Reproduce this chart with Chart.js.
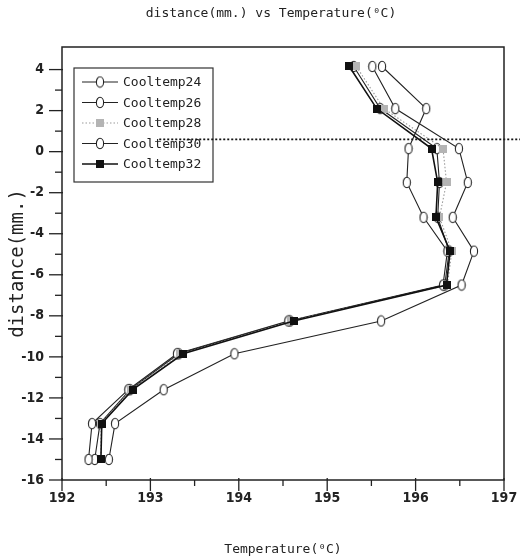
<!DOCTYPE html>
<html>
<head>
<meta charset="utf-8">
<script src="https://cdn.jsdelivr.net/npm/chart.js@4"></script>
<style>
  html, body { margin: 0; padding: 0; background: #fff; }
  #wrap { width: 520px; height: 559px; position: relative; }
</style>
</head>
<body>
<div id="wrap"><canvas id="chart"></canvas></div>
<script>
// depth positions (mm), shared by every series
const distance = [4.15, 2.1, 0.15, -1.5, -3.2, -4.85, -6.5, -8.25, -9.85, -11.6, -13.25, -15.0];

// temperatures (C)
const cool24 = [195.62, 196.12, 195.92, 195.90, 196.09, 196.36, 196.31, 194.56, 193.30, 192.75, 192.34, 192.30];
const cool26 = [195.30, 195.60, 196.24, 196.27, 196.25, 196.38, 196.33, 194.58, 193.32, 192.77, 192.43, 192.37];
const cool28 = [195.33, 195.64, 196.31, 196.35, 196.27, 196.41, 196.36, 194.59, 193.34, 192.78, 192.44, 192.44];
const cool30 = [195.51, 195.77, 196.49, 196.59, 196.42, 196.66, 196.52, 195.61, 193.95, 193.15, 192.60, 192.53];
const cool32 = [195.25, 195.56, 196.18, 196.25, 196.23, 196.39, 196.35, 194.62, 193.37, 192.80, 192.45, 192.44];

const labels = ['Cooltemp24', 'Cooltemp26', 'Cooltemp28', 'Cooltemp30', 'Cooltemp32'];

// axis ticks
const xTicks = [192, 193, 194, 195, 196, 197];
const xMinor = [192.5, 193.5, 194.5, 195.5, 196.5];
const yTicks = [-16, -14, -12, -10, -8, -6, -4, -2, 0, 2, 4];
const yMinor = [-15, -13, -11, -9, -7, -5, -3, -1, 1, 3];

// stray dotted line of the scan
const scanLineX = [193.1, 197.2];
const scanLineY = 0.6;

const titleText = 'distance(mm.) vs Temperature(\u2070C)';
const mono = "'DejaVu Sans Mono', monospace";
const narrow = "'Liberation Sans Narrow', 'DejaVu Sans Condensed', sans-serif";

function ringMarker() {
  const c = document.createElement('canvas');
  c.width = 10; c.height = 13;
  const g = c.getContext('2d');
  g.beginPath();
  g.ellipse(5, 6.5, 3.6, 5.2, 0, 0, Math.PI * 2);
  g.fillStyle = '#fff';
  g.fill();
  g.lineWidth = 1.1;
  g.strokeStyle = '#222';
  g.stroke();
  return c;
}
function squareMarker(color) {
  const c = document.createElement('canvas');
  c.width = 8; c.height = 8;
  const g = c.getContext('2d');
  g.fillStyle = color;
  g.fillRect(0, 0, 8, 8);
  return c;
}

const ring = ringMarker();
const blackSq = squareMarker('#111');
const graySq = squareMarker('#b4b4b4');

const toPoints = xs => xs.map((v, i) => ({ x: v, y: distance[i] }));

function series(label, xs, marker, color, dash, width, order) {
  return {
    label: label,
    data: toPoints(xs),
    borderColor: color,
    backgroundColor: color,
    borderWidth: width,
    borderDash: dash,
    pointStyle: marker,
    showLine: true,
    tension: 0,
    order: order,
  };
}

const datasets = [
  series(labels[0], cool24, ring, '#222', [], 1.1, 3),
  series(labels[1], cool26, ring, '#222', [], 1.1, 3),
  series(labels[2], cool28, graySq, '#9a9a9a', [1.5, 2], 1.1, 2),
  series(labels[3], cool30, ring, '#222', [], 1.1, 3),
  series(labels[4], cool32, blackSq, '#111', [], 1.6, 1),
  {
    label: 'scan',
    data: scanLineX.map(v => ({ x: v, y: scanLineY })),
    borderColor: '#111',
    borderWidth: 1.6,
    borderDash: [2, 2],
    pointStyle: false,
    pointRadius: 0,
    showLine: true,
    clip: false,
    order: 0,
  },
];

// frame, tick marks, legend box and title
const decor = {
  id: 'decor',
  beforeDatasetsDraw(chart) {
    const { ctx, chartArea: a } = chart;
    const bx = a.left + 12, by = a.top + 21, bw = 139, bh = 114;
    ctx.save();
    ctx.fillStyle = '#fff';
    ctx.fillRect(bx, by, bw, bh);
    ctx.strokeStyle = '#333';
    ctx.lineWidth = 1.2;
    ctx.strokeRect(bx, by, bw, bh);
    ctx.font = '13px ' + mono;
    ctx.textBaseline = 'middle';
    ctx.textAlign = 'left';
    chart.data.datasets.slice(0, labels.length).forEach((ds, i) => {
      const ly = by + 14 + i * 20.5;
      ctx.strokeStyle = ds.borderColor;
      ctx.lineWidth = ds.borderWidth;
      ctx.setLineDash(ds.borderDash);
      ctx.beginPath();
      ctx.moveTo(bx + 8, ly);
      ctx.lineTo(bx + 44, ly);
      ctx.stroke();
      ctx.setLineDash([]);
      const m = ds.pointStyle;
      ctx.drawImage(m, bx + 26 - m.width / 2, ly - m.height / 2);
      ctx.fillStyle = '#222';
      ctx.fillText(ds.label, bx + 49, ly + 1);
    });
    ctx.restore();
  },
  afterDraw(chart) {
    const { ctx, chartArea: a, scales: { x, y } } = chart;
    ctx.save();
    ctx.strokeStyle = '#222';
    ctx.lineWidth = 1.5;
    ctx.strokeRect(a.left, a.top, a.right - a.left, a.bottom - a.top);
    ctx.lineWidth = 1.3;
    const seg = (x1, y1, x2, y2) => { ctx.beginPath(); ctx.moveTo(x1, y1); ctx.lineTo(x2, y2); ctx.stroke(); };
    xTicks.forEach(v => { const p = x.getPixelForValue(v); seg(p, a.bottom - 2, p, a.bottom + 11); });
    xMinor.forEach(v => { const p = x.getPixelForValue(v); seg(p, a.bottom, p, a.bottom + 6); });
    yTicks.forEach(v => { const p = y.getPixelForValue(v); seg(a.left - 13, p, a.left + 1, p); });
    yMinor.forEach(v => { const p = y.getPixelForValue(v); seg(a.left - 7, p, a.left, p); });
    ctx.fillStyle = '#222';
    ctx.font = '13px ' + mono;
    ctx.textAlign = 'center';
    ctx.textBaseline = 'middle';
    ctx.fillText(titleText, (a.left + a.right) / 2 - 12, 14);
    ctx.restore();
  },
};

new Chart(document.getElementById('chart'), {
  type: 'scatter',
  data: { datasets: datasets },
  plugins: [decor],
  options: {
    animation: false,
    responsive: true,
    maintainAspectRatio: false,
    layout: { padding: { top: 47, right: 16, left: 0, bottom: 0 } },
    plugins: {
      legend: { display: false },
      tooltip: { enabled: false },
      title: { display: false },
    },
    elements: { point: { radius: 4 } },
    scales: {
      x: {
        type: 'linear',
        min: 192,
        max: 197,
        afterBuildTicks: s => { s.ticks = xTicks.map(v => ({ value: v })); },
        afterFit: s => { s.height = 79; s.paddingLeft = 0; s.paddingRight = 0; },
        grid: { display: false, drawTicks: false },
        border: { display: false },
        ticks: {
          padding: 10,
          color: '#222',
          font: { family: narrow, size: 14, weight: 'bold' },
          callback: v => String(v),
        },
        title: {
          display: true,
          text: 'Temperature(\u2070C)',
          color: '#222',
          font: { family: mono, size: 13 },
          padding: { top: 0, bottom: 2 },
        },
      },
      y: {
        type: 'linear',
        min: -16,
        max: 5.1,
        afterBuildTicks: s => { s.ticks = yTicks.map(v => ({ value: v })); },
        afterFit: s => { s.width = 62; s.paddingTop = 0; s.paddingBottom = 0; },
        grid: { display: false, drawTicks: false },
        border: { display: false },
        ticks: {
          padding: 18,
          color: '#222',
          font: { family: narrow, size: 14, weight: 'bold' },
          callback: v => String(v),
        },
        title: {
          display: true,
          text: 'distance(mm.)',
          color: '#222',
          font: { family: mono, size: 19 },
          padding: { top: 7, bottom: 0 },
        },
      },
    },
  },
});
</script>
</body>
</html>
